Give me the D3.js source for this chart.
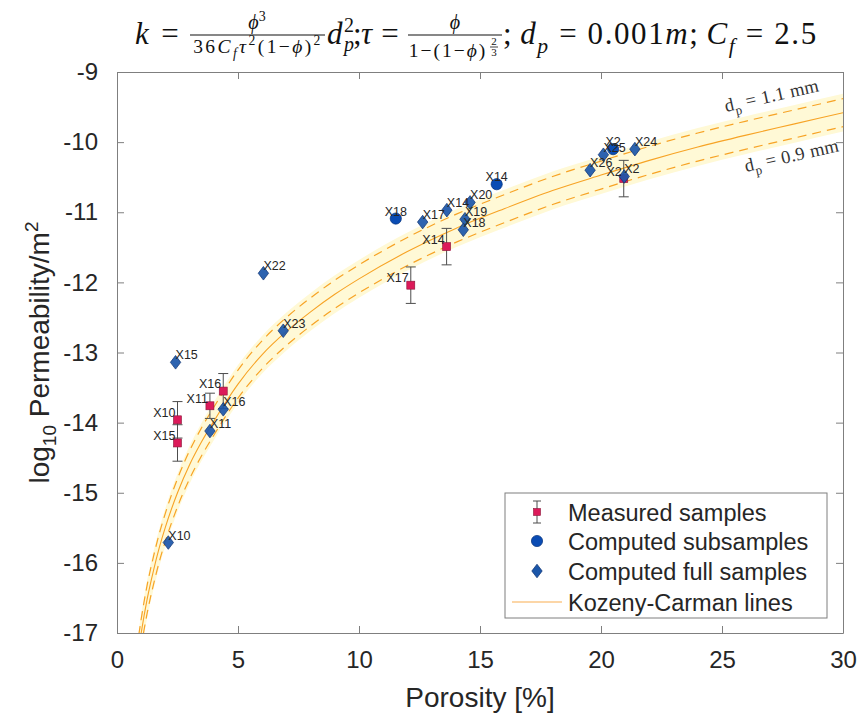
<!DOCTYPE html>
<html>
<head>
<meta charset="utf-8">
<script src="https://cdn.jsdelivr.net/npm/d3@7"></script>
<style>
  html, body { margin: 0; padding: 0; background: #ffffff; }
  svg { display: block; }
</style>
</head>
<body>
<svg id="chart" width="860" height="716"></svg>
<script>
// ---------------- DATA ----------------
const xTicks = [0, 5, 10, 15, 20, 25, 30];
const yTicks = [-17, -16, -15, -14, -13, -12, -11, -10, -9];

// Measured samples (squares with error bars)
const measuredIds = ["X10", "X15", "X11", "X16", "X17", "X14", "X2"];
const measuredPorosity = [2.5, 2.5, 3.84, 4.39, 12.14, 13.62, 20.94];
const measuredLogK = [-13.96, -14.29, -13.76, -13.55, -12.04, -11.49, -10.52];
const measuredErr = [0.26, 0.26, 0.18, 0.25, 0.26, 0.26, 0.26];

// Computed subsamples (circles)
const subIds = ["X18", "X14", "X2"];
const subPorosity = [11.52, 15.69, 20.5];
const subLogK = [-11.09, -10.60, -10.10];

// Computed full samples (diamonds)
const fullIds = ["X10", "X15", "X11", "X16", "X22", "X23", "X17", "X14", "X20", "X19", "X18", "X26", "X25", "X2", "X24"];
const fullPorosity = [2.12, 2.42, 3.84, 4.39, 6.05, 6.87, 12.63, 13.63, 14.59, 14.38, 14.31, 19.55, 20.10, 20.96, 21.40];
const fullLogK = [-15.71, -13.14, -14.12, -13.81, -11.87, -12.69, -11.14, -10.97, -10.86, -11.10, -11.25, -10.40, -10.18, -10.49, -10.10];

// Kozeny-Carman lines
const kcPorosity = [0.9, 1, 1.25, 1.5, 1.75, 2, 2.5, 3, 3.5, 4, 5, 6, 7, 8, 9, 10, 12, 14, 16, 18, 20, 22, 24, 26, 28, 30];
const kcCenter = [-17.23, -17.00, -16.51, -16.12, -15.78, -15.49, -15.00, -14.60, -14.27, -13.98, -13.45, -13.03, -12.70, -12.42, -12.17, -11.95, -11.56, -11.23, -10.95, -10.69, -10.47, -10.26, -10.07, -9.90, -9.74, -9.58];
const kcUpper = [-17.03, -16.80, -16.31, -15.92, -15.58, -15.29, -14.80, -14.40, -14.07, -13.78, -13.25, -12.83, -12.50, -12.22, -11.97, -11.75, -11.36, -11.03, -10.75, -10.49, -10.27, -10.06, -9.87, -9.70, -9.54, -9.38];
const kcLower = [-17.43, -17.20, -16.71, -16.32, -15.98, -15.69, -15.20, -14.80, -14.47, -14.18, -13.65, -13.23, -12.90, -12.62, -12.37, -12.15, -11.76, -11.43, -11.15, -10.89, -10.67, -10.46, -10.27, -10.10, -9.94, -9.78];
const kcBandTop = [-16.96, -16.73, -16.24, -15.85, -15.51, -15.22, -14.73, -14.33, -14.00, -13.71, -13.18, -12.76, -12.43, -12.15, -11.90, -11.68, -11.29, -10.96, -10.68, -10.42, -10.20, -9.99, -9.80, -9.63, -9.47, -9.31];
const kcBandBottom = [-17.50, -17.27, -16.78, -16.39, -16.05, -15.76, -15.27, -14.87, -14.54, -14.25, -13.72, -13.30, -12.97, -12.69, -12.44, -12.22, -11.83, -11.50, -11.22, -10.96, -10.74, -10.53, -10.34, -10.17, -10.01, -9.85];

const legendLabels = ["Measured samples", "Computed subsamples", "Computed full samples", "Kozeny-Carman lines"];

// ---------------- LAYOUT ----------------
const svg = d3.select("#chart");
const L = 117, R = 843, T = 72, B = 633;
const x = d3.scaleLinear().domain([0, 30]).range([L, R]);
const y = d3.scaleLinear().domain([-17, -9]).range([B, T]);

const SANS = "'Liberation Sans', Arial, Helvetica, sans-serif";
const SERIF = "'Liberation Serif', 'DejaVu Serif', 'Times New Roman', serif";
const AXIS = "#7f7f7f";
const TXT = "#262626";
const ORANGE = "#f7a325";

svg.append("defs").append("clipPath").attr("id", "plotclip")
  .append("rect").attr("x", L).attr("y", T).attr("width", R - L).attr("height", B - T);

const plot = svg.append("g").attr("clip-path", "url(#plotclip)");

// band
const band = d3.area()
  .x((d, i) => x(kcPorosity[i]))
  .y0((d, i) => y(kcBandBottom[i]))
  .y1((d, i) => y(kcBandTop[i]))
  .curve(d3.curveMonotoneX);
plot.append("path").datum(kcPorosity).attr("d", band).attr("fill", "#fff9d6");

const lineOf = arr => d3.line().x((d, i) => x(kcPorosity[i])).y((d, i) => y(arr[i])).curve(d3.curveMonotoneX)(kcPorosity);
plot.append("path").attr("d", lineOf(kcUpper)).attr("fill", "none").attr("stroke", ORANGE).attr("stroke-width", 1.2).attr("stroke-dasharray", "9,6");
plot.append("path").attr("d", lineOf(kcLower)).attr("fill", "none").attr("stroke", ORANGE).attr("stroke-width", 1.2).attr("stroke-dasharray", "9,6");
plot.append("path").attr("d", lineOf(kcCenter)).attr("fill", "none").attr("stroke", ORANGE).attr("stroke-width", 1.1);

// ---------------- AXES ----------------
const axG = svg.append("g");
const xAxisB = d3.axisBottom(x).tickValues(xTicks).tickSizeInner(-7).tickSizeOuter(0).tickPadding(18).tickFormat(d3.format("d"));
const xAxisT = d3.axisTop(x).tickValues(xTicks).tickSizeInner(-7).tickSizeOuter(0).tickFormat(() => "");
const yAxisL = d3.axisLeft(y).tickValues(yTicks).tickSizeInner(-7).tickSizeOuter(0).tickPadding(19).tickFormat(d => String(d));
const yAxisR = d3.axisRight(y).tickValues(yTicks).tickSizeInner(-7).tickSizeOuter(0).tickFormat(() => "");

function styleAxis(g) {
  g.select(".domain").attr("stroke", AXIS).attr("stroke-width", 1);
  g.selectAll(".tick line").attr("stroke", AXIS).attr("stroke-width", 1);
  g.selectAll(".tick text").attr("fill", TXT).attr("font-family", SANS).attr("font-size", 24);
}
axG.append("g").attr("transform", `translate(0,${B})`).call(xAxisB).call(styleAxis);
axG.append("g").attr("transform", `translate(0,${T})`).call(xAxisT).call(styleAxis);
axG.append("g").attr("transform", `translate(${L},0)`).call(yAxisL).call(styleAxis);
axG.append("g").attr("transform", `translate(${R},0)`).call(yAxisR).call(styleAxis);

// axis labels
svg.append("text").attr("x", (L + R) / 2).attr("y", 707).attr("text-anchor", "middle")
  .attr("font-family", SANS).attr("font-size", 28).attr("fill", TXT).text("Porosity [%]");

const yl = svg.append("text").attr("transform", `translate(49,${(T + B) / 2}) rotate(-90)`)
  .attr("text-anchor", "middle").attr("font-family", SANS).attr("font-size", 28).attr("fill", TXT);
yl.append("tspan").text("log");
yl.append("tspan").attr("font-size", 19).attr("dy", 7).text("10");
yl.append("tspan").attr("dy", -7).text(" Permeability/m");
yl.append("tspan").attr("font-size", 19).attr("dy", -11).text("2");

// ---------------- MARKERS ----------------
const marks = svg.append("g");
const measured = measuredIds.map((id, i) => ({ id, px: measuredPorosity[i], k: measuredLogK[i], e: measuredErr[i] }));
const subs = subIds.map((id, i) => ({ id, px: subPorosity[i], k: subLogK[i] }));
const fulls = fullIds.map((id, i) => ({ id, px: fullPorosity[i], k: fullLogK[i] }));

const ERR = "#4d4d4d";
function errorBar(g, cx, y0, y1, cap) {
  g.append("line").attr("x1", cx).attr("x2", cx).attr("y1", y0).attr("y2", y1).attr("stroke", ERR).attr("stroke-width", 1);
  g.append("line").attr("x1", cx - cap).attr("x2", cx + cap).attr("y1", y0).attr("y2", y0).attr("stroke", ERR).attr("stroke-width", 1);
  g.append("line").attr("x1", cx - cap).attr("x2", cx + cap).attr("y1", y1).attr("y2", y1).attr("stroke", ERR).attr("stroke-width", 1);
}
const SQ_FILL = "#dc1a5a", SQ_EDGE = "#8a1538";
const CI_FILL = "#0a4cb4", CI_EDGE = "#05307a";
const DI_FILL = "#1b56a9", DI_EDGE = "#0b2f70";

measured.forEach(d => {
  errorBar(marks, x(d.px), y(d.k + d.e), y(d.k - d.e), 5);
});
measured.forEach(d => {
  marks.append("rect").attr("x", x(d.px) - 4).attr("y", y(d.k) - 4).attr("width", 8).attr("height", 8)
    .attr("fill", SQ_FILL).attr("stroke", SQ_EDGE).attr("stroke-width", 0.6);
});
subs.forEach(d => {
  marks.append("circle").attr("cx", x(d.px)).attr("cy", y(d.k)).attr("r", 5.6)
    .attr("fill", CI_FILL).attr("stroke", CI_EDGE).attr("stroke-width", 0.7);
});
const diamond = (cx, cy, w, h) => `M${cx},${cy - h}L${cx + w},${cy}L${cx},${cy + h}L${cx - w},${cy}Z`;
fulls.forEach(d => {
  marks.append("path").attr("d", diamond(x(d.px), y(d.k), 5.2, 6.8))
    .attr("fill", DI_FILL).attr("fill-opacity", 0.92).attr("stroke", DI_EDGE).attr("stroke-width", 0.7);
});

// labels
const lab = svg.append("g").attr("font-family", SANS).attr("font-size", 12.5).attr("fill", TXT);
measured.forEach(d => lab.append("text").attr("x", x(d.px) - 2).attr("y", y(d.k) - 3).attr("text-anchor", "end").text(d.id));
subs.forEach(d => lab.append("text").attr("x", x(d.px)).attr("y", y(d.k) - 3).attr("text-anchor", "middle").text(d.id));
fulls.forEach(d => lab.append("text").attr("x", x(d.px)).attr("y", y(d.k) - 3).attr("text-anchor", "start").text(d.id));

// ---------------- RICH TEXT HELPER ----------------
function rich(g, xx, yy, size, parts, anchor, spacing) {
  const t = g.append("text").attr("x", xx).attr("y", yy).attr("font-size", size).attr("text-anchor", anchor || "start");
  if (spacing) t.attr("letter-spacing", spacing);
  let shift = 0;
  parts.forEach(p => {
    const target = p.sub ? size * 0.28 : p.sup ? -size * 0.42 : 0;
    const ts = t.append("tspan").attr("font-size", (p.sub || p.sup) ? size * 0.7 : size)
      .attr("font-style", p.it ? "italic" : "normal").text(p.t);
    if (p.dx) ts.attr("dx", p.dx);
    if (target - shift !== 0) ts.attr("dy", target - shift);
    shift = target;
  });
  return t;
}

// dp annotations
const ann = svg.append("g").attr("font-family", SERIF).attr("fill", "#333");
rich(ann.append("g").attr("transform", "translate(726,112) rotate(-12.5)"), 0, 0, 18.5,
  [{ t: "d" }, { t: "p", sub: 1 }, { t: " = 1.1 mm" }], "start", 0.4);
rich(ann.append("g").attr("transform", "translate(746,172) rotate(-12.5)"), 0, 0, 18.5,
  [{ t: "d" }, { t: "p", sub: 1 }, { t: " = 0.9 mm" }], "start", 0.4);

// ---------------- TITLE ----------------
const title = svg.append("g").attr("font-family", SERIF).attr("fill", "#111");
const PHI = "\u03D5";
rich(title, 135, 44, 31, [{ t: "k", it: 1 }]);
rich(title, 170, 44, 31, [{ t: "=" }], "middle");
title.append("line").attr("x1", 190).attr("x2", 325).attr("y1", 35).attr("y2", 35).attr("stroke", "#111").attr("stroke-width", 1.1);
rich(title, 257, 29, 20, [{ t: PHI, it: 1 }, { t: "3", sup: 1 }], "middle");
rich(title, 258, 53, 19.5, [{ t: "36" }, { t: "C", it: 1 }, { t: "f", it: 1, sub: 1 }, { t: "τ", it: 1 }, { t: "2", sup: 1 }, { t: "(1−" }, { t: PHI, it: 1 }, { t: ")" }, { t: "2", sup: 1 }], "middle", 2.4);
rich(title, 327, 44, 31, [{ t: "d", it: 1 }]);
rich(title, 344, 51, 20, [{ t: "p", it: 1 }]);
rich(title, 344, 32, 20, [{ t: "2" }]);
rich(title, 353, 44, 31, [{ t: ";" }]);
rich(title, 361, 44, 31, [{ t: "τ", it: 1 }]);
rich(title, 390, 44, 31, [{ t: "=" }], "middle");
title.append("line").attr("x1", 408).attr("x2", 502).attr("y1", 35).attr("y2", 35).attr("stroke", "#111").attr("stroke-width", 1.1);
rich(title, 455, 29, 20, [{ t: PHI, it: 1 }], "middle");
rich(title, 448, 57, 19.5, [{ t: "1−(1−" }, { t: PHI, it: 1 }, { t: ")" }], "middle", 2);
rich(title, 494, 45, 11, [{ t: "2" }], "middle");
title.append("line").attr("x1", 490).attr("x2", 498).attr("y1", 47).attr("y2", 47).attr("stroke", "#111").attr("stroke-width", 0.8);
rich(title, 494, 56, 11, [{ t: "3" }], "middle");
rich(title, 503, 44, 31, [{ t: ";" }, { t: "d", it: 1, dx: 7 }, { t: "p", it: 1, sub: 1 }, { t: " = 0.001" }, { t: "m", it: 1 }, { t: ";" }, { t: "C", it: 1, dx: 7 }, { t: "f", it: 1, sub: 1 }, { t: " = 2.5" }], "start", 1.6);

// ---------------- LEGEND ----------------
const lg = svg.append("g");
lg.append("rect").attr("x", 505).attr("y", 493).attr("width", 322).attr("height", 125)
  .attr("fill", "#ffffff").attr("stroke", AXIS).attr("stroke-width", 1);
const rowY = [512, 541, 571, 602];
const ix = 537;
errorBar(lg, ix, rowY[0] - 11, rowY[0] + 11, 4);
lg.append("rect").attr("x", ix - 3.5).attr("y", rowY[0] - 3.5).attr("width", 7).attr("height", 7).attr("fill", SQ_FILL).attr("stroke", SQ_EDGE).attr("stroke-width", 0.6);
lg.append("circle").attr("cx", ix).attr("cy", rowY[1]).attr("r", 5.6).attr("fill", CI_FILL).attr("stroke", CI_EDGE).attr("stroke-width", 0.7);
lg.append("path").attr("d", diamond(ix, rowY[2], 5.2, 6.8)).attr("fill", DI_FILL).attr("stroke", DI_EDGE).attr("stroke-width", 0.7);
lg.append("line").attr("x1", 512).attr("x2", 562).attr("y1", rowY[3]).attr("y2", rowY[3]).attr("stroke", "#fbc98a").attr("stroke-width", 1.6);
legendLabels.forEach((t, i) => {
  lg.append("text").attr("x", 568).attr("y", rowY[i] + 8.5).attr("font-family", SANS).attr("font-size", 23.5).attr("fill", TXT).text(t);
});
</script>
</body>
</html>
